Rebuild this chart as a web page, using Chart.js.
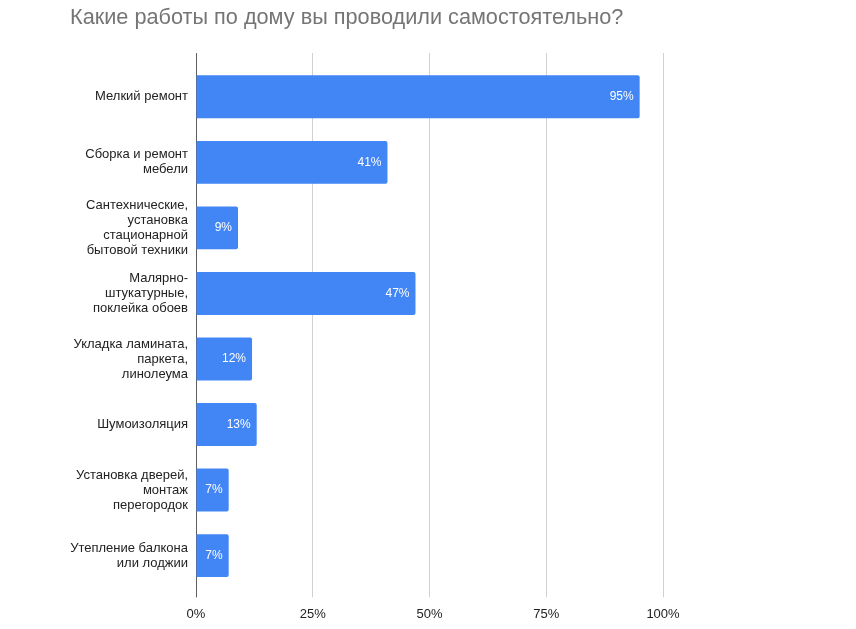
<!DOCTYPE html>
<html>
<head>
<meta charset="utf-8">
<script src="https://cdn.jsdelivr.net/npm/chart.js@4/dist/chart.umd.min.js"></script>
<style>
    html, body { margin: 0; padding: 0; background: #ffffff; }
    #wrap { width: 856px; height: 629px; }
</style>
</head>
<body>
<div id="wrap"><canvas id="workChart"></canvas></div>
<script>
// Chart data
const titleText = 'Какие работы по дому вы проводили самостоятельно?';
const categories = [
    ['Мелкий ремонт'],
    ['Сборка и ремонт', 'мебели'],
    ['Сантехнические,', 'установка', 'стационарной', 'бытовой техники'],
    ['Малярно-', 'штукатурные,', 'поклейка обоев'],
    ['Укладка ламината,', 'паркета,', 'линолеума'],
    ['Шумоизоляция'],
    ['Установка дверей,', 'монтаж', 'перегородок'],
    ['Утепление балкона', 'или лоджии']
];
const shares = [95, 41, 9, 47, 12, 13, 7, 7];
const xTicks = [0, 25, 50, 75, 100];

const fontFamily = '"Liberation Sans", Arial, sans-serif';
const gridColor = ctx => (ctx.tick && ctx.tick.value === 0) ? '#5f5f5f' : '#d0d0d0';

// Value labels drawn inside the bar end
const barLabels = {
    id: 'barLabels',
    afterDatasetsDraw(chart) {
        const c = chart.ctx;
        const meta = chart.getDatasetMeta(0);
        c.save();
        c.font = '12px ' + fontFamily;
        c.fillStyle = '#ffffff';
        c.textAlign = 'right';
        c.textBaseline = 'middle';
        meta.data.forEach((bar, i) => {
            c.fillText(shares[i] + '%', bar.x - 6, bar.y);
        });
        c.restore();
    }
};

const ctx = document.getElementById('workChart');

new Chart(ctx, {
    type: 'bar',
    data: {
        labels: categories,
        datasets: [{
            label: 'Доля',
            data: shares,
            backgroundColor: '#4285F4',
            borderRadius: 2,
            borderSkipped: 'start',
            barPercentage: 1,
            categoryPercentage: 0.655
        }]
    },
    options: {
        indexAxis: 'y',
        responsive: true,
        maintainAspectRatio: false,
        animation: false,
        layout: {
            padding: { left: 70, right: 193, top: 0, bottom: -2 }
        },
        plugins: {
            legend: { display: false },
            tooltip: { enabled: false },
            title: {
                display: true,
                text: titleText,
                align: 'start',
                color: '#757575',
                font: { family: fontFamily, size: 21.7, weight: 'normal' },
                padding: { top: 5, bottom: 22 }
            }
        },
        scales: {
            x: {
                min: 0,
                max: 100,
                afterBuildTicks: scale => { scale.ticks = xTicks.map(v => ({ value: v })); },
                border: { display: false },
                grid: { color: gridColor, tickColor: gridColor, tickLength: 9 },
                ticks: {
                    color: '#222222',
                    padding: 9,
                    font: { family: fontFamily, size: 13 },
                    callback: v => v + '%'
                }
            },
            x2: {
                axis: 'x',
                position: 'top',
                min: 0,
                max: 100,
                afterBuildTicks: scale => { scale.ticks = xTicks.map(v => ({ value: v })); },
                border: { display: false },
                grid: { color: gridColor, tickColor: gridColor, tickLength: 11, drawOnChartArea: false },
                ticks: { display: false }
            },
            y: {
                border: { display: false },
                grid: { display: false, drawTicks: false },
                afterFit: scale => { scale.width = 126; },
                ticks: {
                    color: '#222222',
                    padding: 8,
                    font: { family: fontFamily, size: 13, lineHeight: 1.15 }
                }
            }
        }
    },
    plugins: [barLabels]
});
</script>
</body>
</html>
